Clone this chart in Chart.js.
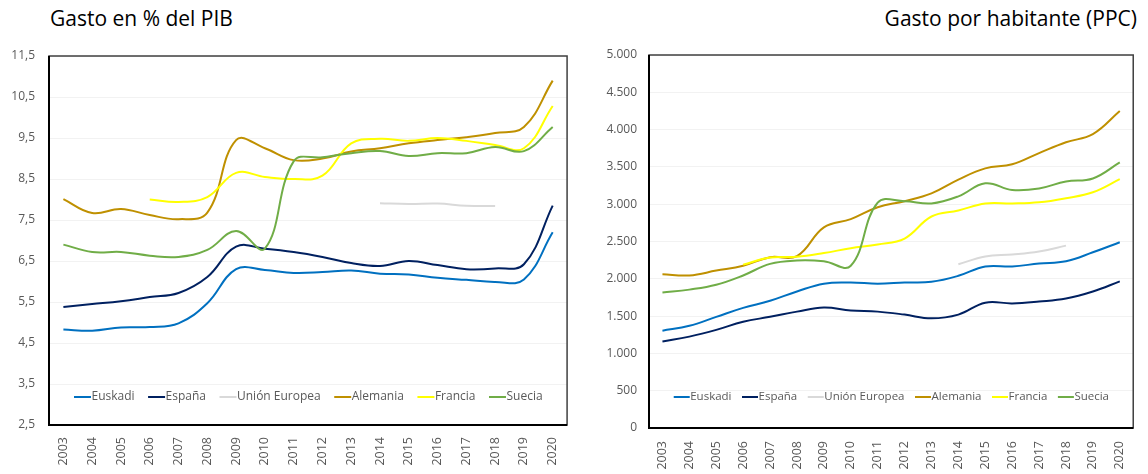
<!DOCTYPE html>
<html>
<head>
<meta charset="utf-8">
<script src="https://cdn.jsdelivr.net/npm/chart.js@4.4.1/dist/chart.umd.min.js"></script>
<style>
  html, body { margin: 0; padding: 0; background: #fff; width: 1148px; height: 474px; overflow: hidden; }
  .title { position: absolute; font-family: "Open Sans", sans-serif; font-size: 21px; color: #000; white-space: nowrap; line-height: 1; }
  #wrapL { position: absolute; left: 0; top: 0; width: 580px; height: 474px; }
  #wrapR { position: absolute; left: 580px; top: 0; width: 568px; height: 474px; }
</style>
</head>
<body>
<div class="title" style="left:50px; top:8px;">Gasto en % del PIB</div>
<div class="title" style="right:11px; top:8px;">Gasto por habitante (PPC)</div>
<div id="wrapL"><canvas id="cL" width="580" height="474"></canvas></div>
<div id="wrapR"><canvas id="cR" width="568" height="474"></canvas></div>
<script>
// Years on the horizontal axis
const years = ['2003','2004','2005','2006','2007','2008','2009','2010','2011','2012',
               '2013','2014','2015','2016','2017','2018','2019','2020'];

// Series names
const seriesNames = ['Euskadi', 'España', 'Unión Europea', 'Alemania', 'Francia', 'Suecia'];

// Gasto en % del PIB
const euskadiPct  = [4.83, 4.80, 4.88, 4.89, 4.98, 5.47, 6.30, 6.28, 6.21, 6.23, 6.27, 6.19, 6.17, 6.09, 6.04, 5.99, 6.05, 7.20];
const espanaPct   = [5.38, 5.45, 5.52, 5.62, 5.72, 6.11, 6.85, 6.80, 6.72, 6.60, 6.45, 6.38, 6.50, 6.40, 6.30, 6.32, 6.42, 7.85];
const uePct       = [null, null, null, null, null, null, null, null, null, null, null, 7.91, 7.89, 7.90, 7.85, 7.84, null, null];
const alemaniaPct = [8.01, 7.67, 7.77, 7.62, 7.52, 7.68, 9.45, 9.25, 8.96, 9.00, 9.17, 9.25, 9.37, 9.45, 9.52, 9.62, 9.77, 10.90];
const franciaPct  = [null, null, null, 8.00, 7.94, 8.06, 8.65, 8.55, 8.50, 8.58, 9.37, 9.48, 9.43, 9.50, 9.43, 9.33, 9.25, 10.28];
const sueciaPct   = [6.90, 6.72, 6.72, 6.63, 6.60, 6.77, 7.23, 6.80, 8.93, 9.03, 9.13, 9.18, 9.06, 9.13, 9.13, 9.28, 9.18, 9.77];

// Gasto por habitante (PPC)
const euskadiPpc  = [1305, 1370, 1490, 1610, 1705, 1830, 1935, 1950, 1935, 1950, 1960, 2040, 2165, 2165, 2205, 2235, 2355, 2490];
const espanaPpc   = [1160, 1225, 1315, 1425, 1490, 1560, 1615, 1575, 1560, 1520, 1470, 1520, 1680, 1670, 1695, 1735, 1830, 1965];
const uePpc       = [null, null, null, null, null, null, null, null, null, null, null, 2195, 2300, 2325, 2365, 2445, null, null];
const alemaniaPpc = [2060, 2045, 2110, 2175, 2290, 2305, 2690, 2800, 2960, 3040, 3145, 3330, 3480, 3535, 3685, 3830, 3940, 4250];
const franciaPpc  = [null, null, null, 2190, 2285, 2295, 2345, 2410, 2460, 2540, 2835, 2915, 3010, 3010, 3025, 3080, 3160, 3335];
const sueciaPpc   = [1815, 1855, 1920, 2045, 2200, 2245, 2235, 2175, 3020, 3040, 3010, 3105, 3280, 3190, 3210, 3305, 3345, 3560];

// Vertical axis tick labels
const pctTicks = ['2,5', '3,5', '4,5', '5,5', '6,5', '7,5', '8,5', '9,5', '10,5', '11,5'];
const ppcTicks = ['0', '500', '1.000', '1.500', '2.000', '2.500', '3.000', '3.500', '4.000', '4.500', '5.000'];

const seriesColors = ['#0070C0', '#002060', '#D9D9D9', '#BF9000', '#FFFF00', '#70AD47'];
const FONT = '"Open Sans", sans-serif';
const TICK_COLOR = '#595959';

// Plot area frame: dark axes on the left and bottom, thinner border on top and right
const plotFrame = {
  id: 'plotFrame',
  afterDatasetsDraw(chart) {
    const { ctx, chartArea: a } = chart;
    ctx.save();
    ctx.strokeStyle = '#404040';
    ctx.lineWidth = 1.5;
    ctx.strokeRect(a.left, a.top, a.right - a.left, a.bottom - a.top);
    ctx.strokeStyle = '#000';
    ctx.lineWidth = 2;
    ctx.beginPath();
    ctx.moveTo(a.left, a.top);
    ctx.lineTo(a.left, a.bottom);
    ctx.lineTo(a.right, a.bottom);
    ctx.stroke();
    ctx.restore();
  }
};

// Horizontal legend drawn inside the plot area, just above the bottom axis
const lineLegend = {
  id: 'lineLegend',
  afterDraw(chart, args, opts) {
    const { ctx, chartArea: a } = chart;
    ctx.save();
    ctx.font = opts.size + 'px ' + FONT;
    const items = chart.data.datasets.map(ds => ({
      text: ds.label, color: ds.borderColor, w: ctx.measureText(ds.label).width
    }));
    const total = items.reduce((s, it) => s + opts.lineW + it.w, 0) + opts.gap * (items.length - 1);
    let x = (a.left + a.right) / 2 - total / 2;
    const y = a.bottom - opts.offset;
    ctx.textBaseline = 'middle';
    ctx.textAlign = 'left';
    items.forEach(it => {
      ctx.strokeStyle = it.color;
      ctx.lineWidth = 2;
      ctx.beginPath();
      ctx.moveTo(x, y);
      ctx.lineTo(x + opts.lineW, y);
      ctx.stroke();
      ctx.fillStyle = TICK_COLOR;
      ctx.fillText(it.text, x + opts.lineW + 0.5, y);
      x += opts.lineW + it.w + opts.gap;
    });
    ctx.restore();
  }
};

function buildDatasets(series) {
  return series.map((data, i) => ({
    label: seriesNames[i],
    data: data,
    borderColor: seriesColors[i],
    backgroundColor: seriesColors[i],
    borderWidth: 2,
    pointRadius: 0,
    tension: 0.4,
    spanGaps: false,
    order: series.length - i
  }));
}

function makeChart(id, series, y, frame) {
  return new Chart(document.getElementById(id), {
    type: 'line',
    data: { labels: years, datasets: buildDatasets(series) },
    plugins: [plotFrame, lineLegend],
    options: {
      responsive: false,
      animation: false,
      layout: { padding: { top: frame.top, right: frame.right, left: 0, bottom: 0 } },
      plugins: {
        legend: { display: false },
        title: { display: false },
        tooltip: { enabled: false },
        lineLegend: frame.legend
      },
      scales: {
        x: {
          type: 'category',
          offset: true,
          border: { display: false },
          grid: { display: false, drawTicks: false },
          ticks: {
            autoSkip: false, minRotation: 90, maxRotation: 90, padding: frame.xPad,
            color: TICK_COLOR, font: { family: FONT, size: 12.5 }
          },
          afterFit(scale) { scale.height = frame.xHeight; }
        },
        y: {
          min: y.min, max: y.max,
          border: { display: false },
          grid: { color: '#F2F2F2', lineWidth: 1, drawTicks: false },
          ticks: {
            stepSize: y.step, padding: frame.yPad, color: TICK_COLOR,
            font: { family: FONT, size: 12 },
            callback: (v, i) => y.labels[i]
          },
          afterFit(scale) { scale.width = frame.yWidth; }
        }
      }
    }
  });
}

makeChart('cL',
  [euskadiPct, espanaPct, uePct, alemaniaPct, franciaPct, sueciaPct],
  { min: 2.5, max: 11.5, step: 1, labels: pctTicks },
  { top: 56, right: 11, yWidth: 49, xHeight: 49, yPad: 14, xPad: 12,
    legend: { size: 12, lineW: 17, gap: 14, offset: 28 } });

makeChart('cR',
  [euskadiPpc, espanaPpc, uePpc, alemaniaPpc, franciaPpc, sueciaPpc],
  { min: 0, max: 5000, step: 500, labels: ppcTicks },
  { top: 55, right: 8, yWidth: 69, xHeight: 46, yPad: 12, xPad: 13,
    legend: { size: 11.5, lineW: 16, gap: 11, offset: 31 } });
</script>
</body>
</html>
